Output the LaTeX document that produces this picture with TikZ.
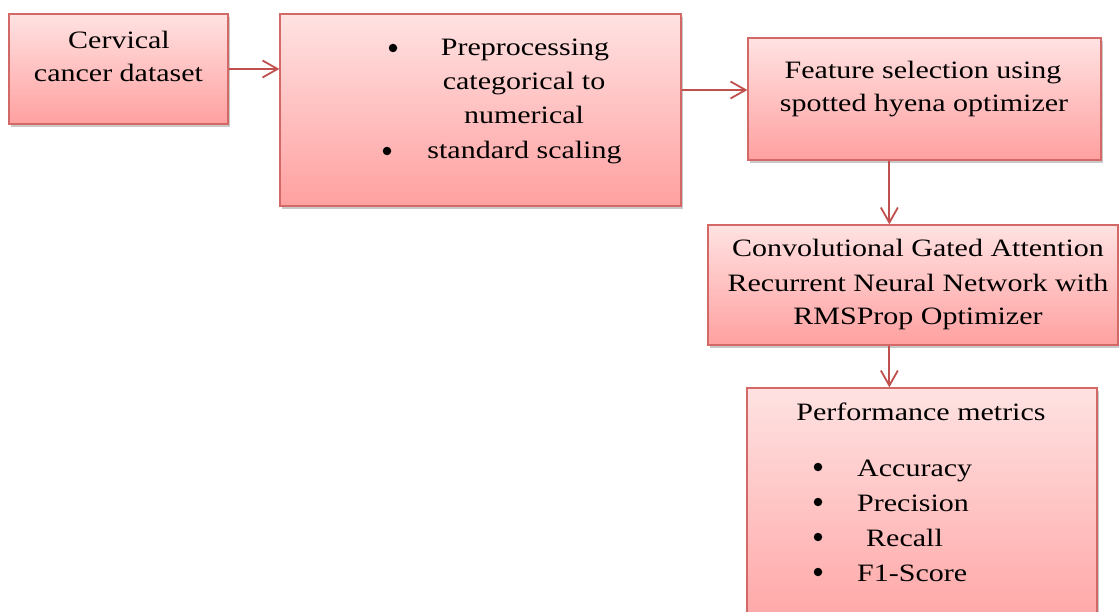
\documentclass[tikz,border=0pt]{standalone}
\usepackage{fontspec}
\setmainfont{Liberation Serif}[FakeStretch=1.2]
\usetikzlibrary{arrows.meta,shadows,calc}
\definecolor{boxtop}{RGB}{255,226,226}
\definecolor{boxbot}{RGB}{255,160,160}
\definecolor{boxline}{RGB}{210,105,103}
\definecolor{arrowcol}{RGB}{192,80,77}
\begin{document}
\begin{tikzpicture}[x=1pt,y=-1pt,
  box/.style={draw=boxline, line width=1.3pt, rectangle, inner sep=0pt,
    top color=boxtop, bottom color=boxbot,
    drop shadow={shadow xshift=2pt, shadow yshift=-3pt, opacity=0.35, fill=black!60}},
  txt/.style={anchor=base, inner sep=0pt, font=\fontsize{25}{33}\selectfont},
  bul/.style={circle, fill=black, inner sep=0pt, minimum size=8.5pt},
  arr/.style={draw=arrowcol, line width=1.8pt,
    -{Straight Barb[length=15pt,width=17pt,line width=1.8pt]}}]
\useasboundingbox (0,0) rectangle (1119,612);
\fill[white] (0,0) rectangle (1119,612);
% boxes
\node[box, minimum width=219pt, minimum height=110pt] (box1) at (118.5,69) {};
\node[box, minimum width=401pt, minimum height=192pt] (box2) at (480.5,110) {};
\node[box, minimum width=353pt, minimum height=122pt] (box3) at (924.5,99) {};
\node[box, minimum width=410pt, minimum height=120pt] (box4) at (913,285) {};
\node[box, minimum width=350pt, minimum height=260pt] (box5) at (922,518) {};
% texts box1
\node[txt] (t1a) at (119,49) {Cervical};
\node[txt] (t1b) at (118.5,82) {cancer dataset};
% box2
\node[bul] (b2a) at (393,48) {};
\node[txt] (t2a) at (525,56) {Preprocessing};
\node[txt] (t2b) at (524,90) {categorical to};
\node[txt] (t2c) at (524,124) {numerical};
\node[bul] (b2b) at (387,151) {};
\node[txt] (t2d) at (524.5,159) {standard scaling};
% box3
\node[txt] (t3a) at (923,79) {Feature selection using};
\node[txt] (t3b) at (924,112) {spotted hyena optimizer};
% box4
\node[txt] (t4a) at (918,257) {Convolutional Gated Attention};
\node[txt] (t4b) at (918,291) {Recurrent Neural Network with};
\node[txt] (t4c) at (918,324) {RMSProp Optimizer};
% box5
\node[txt] (t5) at (921,420) {Performance metrics};
\foreach \yy/\lab/\dx in {476/Accuracy/0, 511/Precision/0, 546/Recall/9, 581/F1-Score/0}{
  \node[bul] at (818,\yy-9) {};
  \node[txt, anchor=base west] at (857+\dx,\yy) {\lab};
}
% connectors
\draw[arr] (box1.east) -- (box1.east -| box2.west);
\draw[arr] ([yshift=9pt]box3.west -| box2.east) -- ([yshift=9pt]box3.west);
\draw[arr] ([xshift=142pt]box3.south west) -- ([xshift=142pt]box3.south west |- box4.north);
\draw[arr] ([xshift=182pt]box4.south west) -- ([xshift=182pt]box4.south west |- box5.north);
\end{tikzpicture}
\end{document}
